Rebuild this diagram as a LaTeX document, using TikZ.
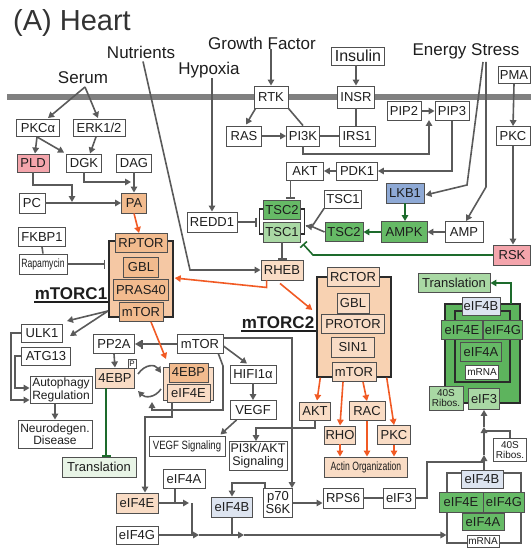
\documentclass[tikz,border=0pt]{standalone}
\usepackage{fontspec}
\setmainfont{Liberation Sans}
\usepackage{graphicx}
\usetikzlibrary{arrows.meta,calc}

\definecolor{lnc}{HTML}{5A5A5A}
\definecolor{bdr}{HTML}{505050}
\definecolor{frm}{HTML}{2B2B2B}
\definecolor{txt}{HTML}{1E1E1E}
\definecolor{ttl}{HTML}{333333}
\definecolor{memb}{HTML}{808080}
\definecolor{orfill}{HTML}{F2BB8E}
\definecolor{orcx}{HTML}{F5C8A4}
\definecolor{orcxb}{HTML}{F8D2B2}
\definecolor{orlight}{HTML}{F9DCC5}
\definecolor{grdark}{HTML}{66BA66}
\definecolor{grcx}{HTML}{5DB45D}
\definecolor{grlight}{HTML}{A9D8A4}
\definecolor{grpale}{HTML}{E8F4E6}
\definecolor{bluebox}{HTML}{8EA9D5}
\definecolor{bluepale}{HTML}{DDE4F0}
\definecolor{pinkbox}{HTML}{F4A5AC}
\definecolor{orline}{HTML}{F15A24}
\definecolor{grline}{HTML}{1D6B2C}

\newcommand\setfs[1]{\fontsize{#1}{#1}\selectfont}

\tikzset{
  bx/.style={draw=bdr, line width=0.9pt, fill=white, inner sep=1pt, text=txt,
             align=center, font=\setfs{13}},
  wh/.style 2 args={minimum width=#1pt, minimum height=#2pt},
  cx/.style={draw=frm, line width=1.4pt, inner sep=0pt},
  lbl/.style={font=\setfs{17}, text=txt, inner sep=0pt},
  cname/.style={font=\bfseries\setfs{17}, text=txt, inner sep=0pt},
  uline/.style={draw=txt, line width=1.4pt},
  ln/.style={draw=lnc, line width=1.6pt},
  arr/.style={ln, -{Triangle[length=6pt,width=6.5pt]}},
  inh/.style={ln, -{Bar[width=9pt]}},
  oarr/.style={draw=orline, line width=1.6pt, -{Triangle[length=6pt,width=6.5pt]}},
  garr/.style={draw=grline, line width=1.6pt, -{Triangle[length=6pt,width=6.5pt]}},
  ginh/.style={draw=grline, line width=1.6pt, -{Bar[width=9pt]}},
  tbarr/.style={ln, -{Bar[width=9pt] Triangle[length=6pt,width=6.5pt]}},
}

\begin{document}
\begin{tikzpicture}[x=1pt,y=-1pt]
\useasboundingbox (0,0) rectangle (531,548);

% cell membrane
\fill[memb] (7,94) rectangle (531,100);

% title and stimuli
\node[anchor=west, font=\setfs{29}, text=ttl, inner sep=0pt] (title) at (13,23) {(A) Heart};
\node[lbl] (nutr) at (141,52) {Nutrients};
\node[lbl] (serum) at (83,78) {Serum};
\node[lbl] (gf) at (262,43) {Growth Factor};
\node[lbl] (hyp) at (209,70) {Hypoxia};
\node[lbl] (estress) at (466,51) {Energy Stress};
\node[bx, wh={53}{18}, font=\setfs{16}] (insulin) at (358,56) {Insulin};
\node[bx, wh={32}{17}] (pma) at (514,75) {PMA};

% receptor level
\node[bx, wh={34}{22}] (rtk) at (271,97) {RTK};
\node[bx, wh={37}{22}] (insr) at (356,97) {INSR};
\node[bx, wh={34}{19}] (pip2) at (404,111) {PIP2};
\node[bx, wh={34}{19}] (pip3) at (452,111) {PIP3};
\node[bx, wh={34}{19}] (pkc) at (513,136) {PKC};
\node[bx, wh={35}{20}] (ras) at (244,136) {RAS};
\node[bx, wh={33}{20}] (pi3k) at (303,136) {PI3K};
\node[bx, wh={36}{20}] (irs1) at (357,136) {IRS1};
\node[bx, wh={37}{18}] (akt) at (305,171) {AKT};
\node[bx, wh={41}{18}] (pdk1) at (357,171) {PDK1};

% serum branch
\node[bx, wh={43}{17}] (pkca) at (38,128) {PKCα};
\node[bx, wh={52}{17}] (erk) at (99,128) {ERK1/2};
\node[bx, wh={32}{18}, fill=pinkbox] (pld) at (33,163) {PLD};
\node[bx, wh={35}{18}] (dgk) at (84,163) {DGK};
\node[bx, wh={35}{18}] (dag) at (134,163) {DAG};
\node[bx, wh={26}{20}] (pc) at (32,203) {PC};
\node[bx, wh={25}{20}, fill=orfill] (pa) at (134,203) {PA};
\node[bx, wh={47}{19}] (fkbp) at (42,237) {FKBP1};
\node[bx, wh={48}{20}, font=\setfs{12}] (rapa) at (43,264) {\scalebox{0.72}[1]{Rapamycin}};

% mTORC1
\node[cx, wh={64}{76}, fill=orcx] (c1) at (141,279) {};
\node[bx, wh={52}{19}, fill=orfill] (rptor) at (141,243) {RPTOR};
\node[bx, wh={35}{20}, fill=orfill] (gbl1) at (141,267) {GBL};
\node[bx, wh={55}{21}, fill=orfill] (pras) at (141,290) {PRAS40};
\node[bx, wh={44}{19}, fill=orfill] (mtor1) at (141,312) {mTOR};
\node[cname] (lc1) at (71,294) {mTORC1};
\coordinate (u1) at (34,302);
\draw[uline] (u1) -- (u1 -| c1.west);

% downstream of mTORC1
\node[bx, wh={41}{18}] (ulk1) at (42,333) {ULK1};
\node[bx, wh={49}{18}] (atg13) at (46,356) {ATG13};
\node[bx, wh={62}{27}, font=\fontsize{12}{12.5}\selectfont] (autoph) at (61,390) {Autophagy\\Regulation};
\node[bx, wh={74}{28}, font=\fontsize{12}{12.5}\selectfont] (neuro) at (55,434) {Neurodegen.\\Disease};
\node[bx, wh={74}{20}, fill=grpale] (transl) at (99,467) {Translation};
\node[bx, wh={41}{19}] (pp2a) at (114,344) {PP2A};
\node[bx, wh={46}{19}] (mtor) at (200,344) {mTOR};
\node[bx, wh={39}{20}, fill=orlight] (ebp) at (115,378) {4EBP};
\node[bx, wh={8}{9}, inner sep=0pt, font=\setfs{8}] (pp) at (132,364) {P};

% 4EBP / eIF4E complex
\node[draw=bdr, line width=0.8pt, fill=orlight, wh={50}{33}, inner sep=0pt] (cxb) at (188,383.5) {};
\node[bx, wh={39}{19}, fill=orfill] (cx4) at (188.5,372.5) {4EBP};
\node[bx, wh={43}{18}, fill=orlight] (cxe) at (188.5,393) {eIF4E};

\node[bx, wh={46}{18}] (hif) at (253,374) {HIFI1α};
\node[bx, wh={46}{19}] (vegf) at (253,410) {VEGF};
\node[bx, wh={76}{20}, font=\setfs{12}] (vegfs) at (187,446) {\scalebox{0.8}[1]{VEGF Signaling}};
\node[bx, wh={58}{29}, font=\fontsize{12.5}{13}\selectfont] (pi3ks) at (258,456) {PI3K/AKT\\Signaling};

% TSC complex and regulators
\node[bx, wh={42}{20}, fill=orlight] (rheb) at (282,270) {RHEB};
\node[bx, wh={37}{19}, fill=grdark] (tsc2) at (282,210) {TSC2};
\node[bx, wh={37}{20}, fill=grlight] (tsc1) at (282,232) {TSC1};
\draw[draw=frm, line width=1.6pt] (263,209) -- (259.5,209) -- (259.5,234) -- (263,234);
\draw[draw=frm, line width=1.6pt] (301,209) -- (304.5,209) -- (304.5,234) -- (301,234);
\node[bx, wh={50}{20}] (redd1) at (212,222) {REDD1};
\node[bx, wh={37}{18}] (tsc1r) at (343,199) {TSC1};
\node[bx, wh={38}{19}, fill=grdark] (tsc2r) at (344,232) {TSC2};
\node[bx, wh={38}{20}, fill=bluebox] (lkb1) at (405,193) {LKB1};
\node[bx, wh={46}{21}, fill=grdark] (ampk) at (404,232) {AMPK};
\node[bx, wh={38}{21}] (amp) at (464,232) {AMP};
\node[bx, wh={37}{20}, fill=pinkbox] (rsk) at (512,255) {RSK};
\node[bx, wh={72}{19}, fill=grlight] (transtop) at (454,283) {Translation};

% translation initiation complex (upper)
\node[cx, wh={75}{99}, fill=grcx] (trc) at (482.5,353.5) {};
\node[cx, wh={55}{71}] (trin) at (482.5,346.5) {};
\node[bx, wh={38}{18}, fill=bluepale] (eif4bt) at (481,306) {eIF4B};
\node[bx, wh={41}{19}, fill=grdark] (eif4et) at (462,330) {eIF4E};
\node[bx, wh={38}{19}, fill=grdark] (eif4gt) at (503,330) {eIF4G};
\node[bx, wh={41}{19}, fill=grdark] (eif4at) at (481,352) {eIF4A};
\node[bx, wh={33}{14}, font=\setfs{10}] (mrnat) at (482,372) {mRNA};
\node[bx, wh={34}{24}, fill=grlight, font=\fontsize{10}{9.5}\selectfont] (ribot) at (446,398) {40S\\Ribos.};
\node[bx, wh={31}{21}, fill=grlight] (eif3t) at (484,399) {eIF3};

% mTORC2
\node[cx, wh={74}{100}, fill=orcxb] (c2) at (354,327) {};
\node[bx, wh={52}{19}, fill=orlight] (rctor) at (353,277) {RCTOR};
\node[bx, wh={32}{20}, fill=orlight] (gbl2) at (353,303) {GBL};
\node[bx, wh={63}{19}, fill=orlight] (protor) at (353,324) {PROTOR};
\node[bx, wh={43}{20}, fill=orlight] (sin1) at (353,347) {SIN1};
\node[bx, wh={44}{19}, fill=orlight] (mtor2) at (354,372) {mTOR};
\node[cname] (lc2) at (278,323) {mTORC2};
\coordinate (u2) at (241,331);
\draw[uline] (u2) -- (u2 -| c2.west);

% downstream of mTORC2
\node[bx, wh={31}{18}, fill=orlight] (akt2) at (315,411) {AKT};
\node[bx, wh={30}{18}, fill=orlight] (rho) at (340,435) {RHO};
\node[bx, wh={36}{19}, fill=orlight] (rac) at (367,411) {RAC};
\node[bx, wh={33}{19}, fill=orlight] (pkc2) at (394,435) {PKC};
\node[bx, wh={83}{20}, fill=orlight, font=\setfs{12}] (actin) at (366,467) {\scalebox{0.72}[1]{Actin Organization}};

% bottom row
\node[bx, wh={42}{19}] (eif4a) at (184,479) {eIF4A};
\node[bx, wh={42}{20}, fill=orlight] (eif4e) at (137,503) {eIF4E};
\node[bx, wh={42}{18}] (eif4g) at (137,535) {eIF4G};
\node[bx, wh={41}{20}, fill=bluepale] (eif4b) at (232,507) {eIF4B};
\node[bx, wh={29}{29}, font=\fontsize{13}{13}\selectfont] (p70) at (278,503) {p70\\S6K};
\node[bx, wh={40}{20}] (rps6) at (343,498) {RPS6};
\node[bx, wh={32}{20}] (eif3) at (399,498) {eIF3};

% translation initiation complex (lower)
\node[draw=lnc, line width=1.2pt, wh={74}{70}, inner sep=0pt] (brc) at (484,508) {};
\node[bx, wh={42}{18}, fill=bluepale] (eif4bb) at (482,479) {eIF4B};
\node[bx, wh={44}{20}, fill=grdark] (eif4eb) at (461,502) {eIF4E};
\node[bx, wh={41}{20}, fill=grdark] (eif4gb) at (504,502) {eIF4G};
\node[bx, wh={42}{17}, fill=grdark] (eif4ab) at (483,522) {eIF4A};
\node[bx, wh={32}{12}, font=\setfs{10}] (mrnab) at (483,541) {mRNA};
\node[bx, wh={33}{23}, font=\fontsize{10}{9.5}\selectfont] (ribob) at (510,450) {40S\\Ribos.};

% ---------------- connectors ----------------
% serum signalling
\coordinate (srm) at (85,87);
\draw[arr] (srm) -- ($(pkca.north)+(10,-1)$);
\draw[arr] (srm) -- ($(erk.north)+(-1,-1)$);
\draw[arr] ($(pkca.south)+(-1,0)$) -- ($(pld.north)+(2,0)$);
\draw[arr] ($(pkca.south)+(-1,0)$) -- ($(dgk.north west)+(-2,-1)$);
\draw[arr] ($(erk.south)+(-3,0)$) -- ($(dgk.north)+(6,0)$);
\coordinate (pcj) at (72,202);
\coordinate (pldj) at (72,185);
\draw[arr] (pld.south) |- (pldj) -- (pcj);
\coordinate (dagj) at (131,182);
\draw[arr] (dgk.south) |- (dagj);
\draw[arr] (dag.south) -- (pa.north);
\draw[arr] (pc.east) -- (pa.west);
\draw[oarr] (pa.south) -- ($(rptor.north)+(-2,0)$);
\draw[ln] (fkbp.south) -- (rapa.north);
\draw[inh] (rapa.east) -- ($(rapa.east -| c1.west)+(-3,0)$);

% mTORC1 outputs
\coordinate (c1o) at (108,311);
\coordinate (ulkA) at (67,321);
\coordinate (ulkB) at (70,336);
\draw[arr] (c1o) -- (ulkA);
\draw[arr] (c1o) -- (ulkB);
\draw[arr] (ulk1.west) -- ++(-10,0) |- ($(autoph.west)+(0,10)$);
\draw[arr] (atg13.west) -- ++(-6,0) |- ($(autoph.west)+(0,-2)$);
\draw[arr] (neuro.north |- autoph.south) -- (neuro.north);
\coordinate (tl) at (106,0);
\draw[ginh] (tl |- ebp.south) -- (tl |- transl.north);
\draw[tbarr] (mtor.west) -- (pp2a.east);
\draw[arr] (pp2a.south) -- (ebp.north);
\coordinate (oc) at (166,359);
\draw[oarr] ($(mtor1.south)+(10,0)$) -- (oc);

% 4EBP phosphorylation cycle
\coordinate (cyA1) at (138,374);
\coordinate (cyA2) at (161,373);
\draw[arr] (cyA1) .. controls (145,364) and (155,364) .. (cyA2);
\coordinate (cyB1) at (161,389);
\coordinate (cyB2) at (138,391);
\draw[arr] (cyB1) .. controls (155,398) and (145,398) .. (cyB2);

% free mTOR outputs
\coordinate (m1) at (223,366);
\coordinate (m2) at (223,410);
\coordinate (m3) at (152,410);
\coordinate (m4) at (152,402);
\draw[arr] ($(mtor.south east)+(-5,0)$) -- (m1) -- (m2) -- (m3) -- (m4);
\draw[arr] ($(mtor.east)+(0,2)$) -- ($(hif.north)+(-6,-1)$);
\coordinate (pj) at (292,338);
\draw[arr] (mtor.east |- pj) -- (pj) -- (pj |- p70.north);
\coordinate (ej1) at (172,402);
\coordinate (ej2) at (145,417);
\draw[arr] (ej1) |- (ej2) -- (ej2 |- eif4e.north);
\draw[arr] (hif.south) -- (vegf.north);
\draw[arr] ($(vegf.south west)+(7,0)$) -- ($(vegfs.north east)+(-5,-1)$);

% receptor signalling
\draw[arr] (rtk.north |- gf.south) -- (rtk.north);
\draw[arr] (insr.north |- insulin.south) -- (insr.north);
\draw[arr] ($(rtk.south west)+(2,0)$) -- ($(ras.north)+(2,-1)$);
\draw[ln] (rtk.south east) -- (pi3k.north);
\draw[arr] (ras.east) -- (pi3k.west);
\draw[ln] (pi3k.east) -- (irs1.west);
\draw[ln] (insr.south) -- (insr.south |- irs1.north);
\coordinate (pipj) at (429,154);
\coordinate (pipt) at (429,120);
\draw[arr] (pi3k.south) |- (pipj) -- (pipt);
\draw[arr] (pip2.east) -- (pip3.west);
\draw[arr] (pip3.south) |- (pdk1.east);
\draw[arr] (pdk1.west) -- (akt.east);
\coordinate (x290) at (290.5,0);
\draw[inh] (x290 |- akt.south) -- ($(x290 |- tsc2.north)+(0,-1)$);
\draw[inh] (redd1.east) -- (257,222);
\draw[arr] (redd1.north |- hyp.south) -- (redd1.north);
\coordinate (nb) at (190,270);
\draw[arr] ($(nutr.south)+(2,3)$) -- (nb) -- (rheb.west);
\draw[inh] (tsc1.south) -- (rheb.north);

% energy stress and PMA
\coordinate (es1) at (483,62);
\coordinate (es2) at (486,62);
\coordinate (esA) at (467,185);
\coordinate (esB) at (486,187);
\draw[arr] (es1) -- (esA) -- ($(lkb1.east)+(1,2)$);
\draw[arr] (es2) -- (esB) -- ($(amp.north)+(2,0)$);
\draw[arr] (pma.south) -- (pkc.north);
\draw[arr] (pkc.south) -- (pkc.south |- rsk.north);
\draw[garr] (lkb1.south) -- (lkb1.south |- ampk.north);
\draw[arr] (amp.west) -- (ampk.east);
\draw[garr] (ampk.west) -- (tsc2r.east);
\coordinate (tscin) at (306,226);
\draw[ln] (tsc1r.south west) -- (313,225) -- (tscin);
\draw[arr] (tsc2r.west) -- (313,227) -- (tscin);
\coordinate (rskj) at (313,255);
\coordinate (rske) at (303,244);
\draw[ginh] (rsk.west) -- (rskj) -- (rske);

% RHEB to the complexes
\draw[oarr] ($(rheb.south west)+(6,0)$) -- ++(0,7) -- ($(c1.east)+(1,-1)$);
\draw[oarr] ($(rheb.south)+(-2,3)$) -- ($(c2.west)+(-4,-17)$);

% mTORC2 outputs
\draw[oarr] ($(c2.south west)+(4,0)$) -- ($(akt2.north)+(2,-1)$);
\draw[oarr] ($(mtor2.south)+(-11,0)$) -- (rho.north);
\draw[oarr] ($(mtor2.south)+(9,0)$) -- (rac.north);
\draw[oarr] ($(c2.south east)+(-5,0)$) -- (pkc2.north);
\draw[oarr] (rho.south) -- (rho.south |- actin.north);
\draw[oarr] (rac.south) -- (rac.south |- actin.north);
\draw[oarr] (pkc2.south) -- (pkc2.south |- actin.north);
\coordinate (aj) at (256,428);
\draw[arr] (akt2.south) |- (aj) -- (aj |- pi3ks.north);

% S6K branch
\draw[arr] (p70.east) -- (p70.east -| rps6.west);
\draw[ln] (rps6.east) -- (eif3.west);
\coordinate (e3a) at (427,462);
\coordinate (e3b) at (484,462);
\draw[ln] (eif3.east) -| (e3a) -- (e3b);
\draw[arr] ($(p70.north west)+(2,0)$) -- ++(0,-5) -| (eif4b.north);

% assembly of the initiation complex
\coordinate (a1) at (484,470);
\coordinate (a2) at (484,455);
\coordinate (a3) at (484,427);
\coordinate (a4) at (484,431);
\draw[arr] (a1) -- (a2);
\draw[arr] (a2) -- (a3);
\draw[arr] (a3) -- (eif3t.south);
\draw[ln] (ribob.north) |- (a4);
\draw[garr] (511,304) |- (transtop.east);

% bottom eIF4 chain
\coordinate (j4) at (175,503);
\coordinate (v4) at (192,503);
\coordinate (v5) at (192,535);
\draw[ln] (eif4a.south -| j4) -- (j4);
\draw[arr] (eif4e.east) -- ($(v4)+(-3,0)$);
\draw[ln] (v4) -- (v5);
\coordinate (b1) at (199,535);
\coordinate (b2) at (244,535);
\draw[arr] (eif4g.east) -- (b1);
\draw[arr] (b1) -- (b2);
\draw[arr] (b2) -- (b2 -| brc.west);
\draw[ln] (eif4b.south) -- (eif4b.south |- b2);

\end{tikzpicture}
\end{document}
